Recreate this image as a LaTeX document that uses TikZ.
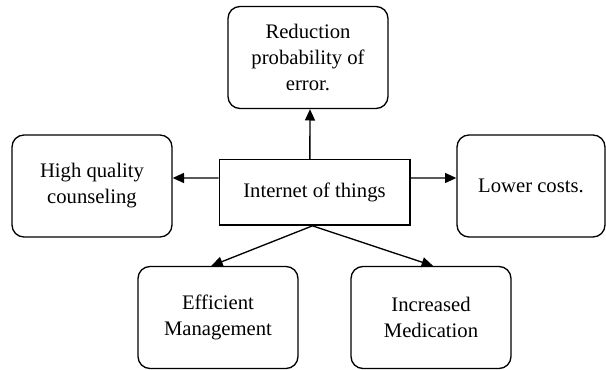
\documentclass[tikz,border=0pt]{standalone}
\usepackage{fontspec}
\setmainfont{Liberation Serif}
\usetikzlibrary{arrows.meta}
\begin{document}
\begin{tikzpicture}[x=0.75pt, y=-0.75pt, line width=1pt, >={Triangle[length=8.5pt,width=7.5pt]},
  main node/.style={draw, rounded corners=9pt, align=center, minimum width=120pt, minimum height=76.5pt, inner sep=2pt},
  hub node/.style={draw, minimum width=143pt, minimum height=49pt, inner sep=2pt}]
\useasboundingbox (0,0) rectangle (606,370);
\begin{scope}[every node/.style={font=\fontsize{15.5}{19.5}\selectfont}]
\node[hub node] (iot) at (314.5,192.5) {Internet of things};
\node[main node] (err) at (308,57.5) {Reduction\\probability of\\error.};
\node[main node] (hq) at (92,186) {High quality\\counseling};
\node[main node, minimum width=111pt] (cost) at (531,186) {Lower costs.};
\node[main node] (eff) at (218,317.5) {Efficient\\Management};
\node[main node] (med) at (431,317.5) {Increased\\Medication};
\end{scope}
\begin{scope}
\draw[->] ([xshift=-3.5pt]iot.north) -- ([xshift=1.5pt]err.south);
\draw[->] ([yshift=10.9pt]iot.west) -- ([yshift=6pt]hq.east);
\draw[->] ([yshift=10.9pt]iot.east) -- ([yshift=6pt]cost.west);
\draw[->] ([xshift=-1.5pt]iot.south) -- ([xshift=-5pt]eff.north);
\draw[->] ([xshift=-1.5pt]iot.south) -- ([xshift=1.5pt]med.north);
\end{scope}
\end{tikzpicture}
\end{document}
